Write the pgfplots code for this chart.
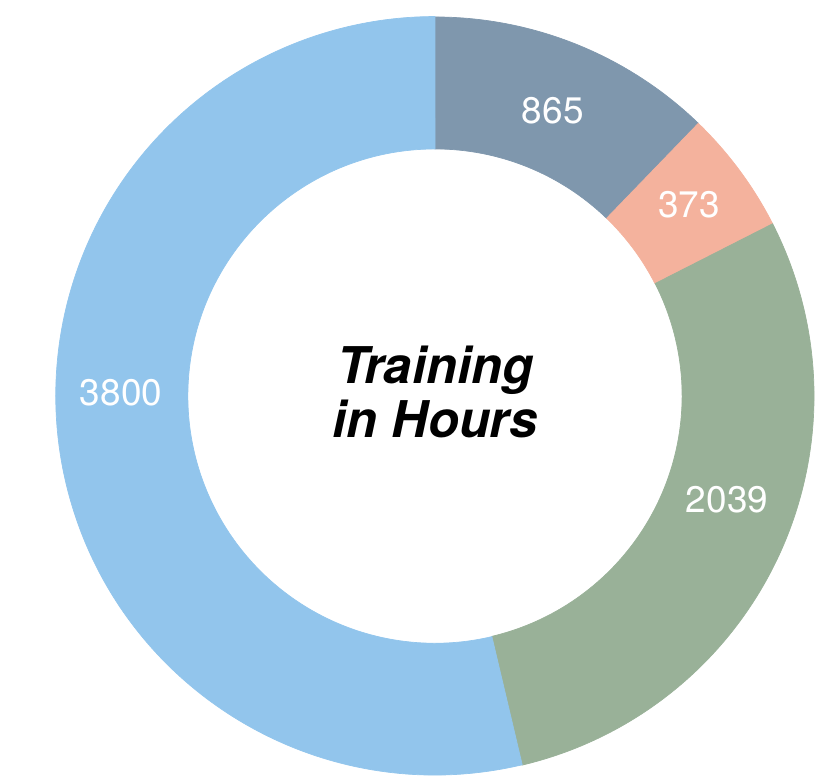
\documentclass[border=0pt]{standalone}
\usepackage{fontspec}
\setmainfont{TeX Gyre Heros}
\usepackage{pgfplots}
\usepackage{pgfplotstable}
\pgfplotsset{compat=1.18}
\definecolor{c0}{HTML}{7F97AD}
\definecolor{c1}{HTML}{F4B29D}
\definecolor{c2}{HTML}{99B198}
\definecolor{c3}{HTML}{92C5EC}
% value, label angle (deg), label radius (px units)
\pgfplotstableread{
value langle lrad
865   67.6   309
373   37.0   318
2039  -19.6  310
3800  179.4  314
}\data
\begin{document}
\begin{tikzpicture}
% precompute slice angles (clockwise from top)
\gdef\total{0}
\foreach \i in {0,...,3}{
  \pgfplotstablegetelem{\i}{value}\of\data
  \pgfmathsetmacro{\t}{\total+\pgfplotsretval}
  \global\let\total\t
}
\gdef\cum{0}
\foreach \i in {0,...,3}{
  \pgfplotstablegetelem{\i}{value}\of\data
  \pgfmathsetmacro{\s}{90-\cum/\total*360}
  \pgfmathsetmacro{\c}{\cum+\pgfplotsretval}
  \pgfmathsetmacro{\e}{90-\c/\total*360}
  \expandafter\xdef\csname sa\i\endcsname{\s}
  \expandafter\xdef\csname ea\i\endcsname{\e}
  \global\let\cum\c
  \pgfplotstablegetelem{\i}{langle}\of\data
  \expandafter\xdef\csname la\i\endcsname{\pgfplotsretval}
  \pgfplotstablegetelem{\i}{lrad}\of\data
  \expandafter\xdef\csname lr\i\endcsname{\pgfplotsretval}
  \pgfplotstablegetelem{\i}{value}\of\data
  \expandafter\xdef\csname lv\i\endcsname{\pgfplotsretval}
}
\begin{axis}[
  hide axis,
  x=0.01cm, y=0.01cm,
  xmin=-435, xmax=381,
  ymin=-381, ymax=396,
  clip=false,
]
\path (axis cs:-435,-381) rectangle (axis cs:381,396);
\pgfplotsinvokeforeach{0,1,2,3}{
  \fill[overlay, c#1, draw=c#1, line width=0.2pt]
    ({379*cos(\csname sa#1\endcsname)},{379*sin(\csname sa#1\endcsname)})
    arc[start angle=\csname sa#1\endcsname, end angle=\csname ea#1\endcsname, radius=3.79cm]
    -- ({247*cos(\csname ea#1\endcsname)},{247*sin(\csname ea#1\endcsname)})
    arc[start angle=\csname ea#1\endcsname, end angle=\csname sa#1\endcsname, radius=2.47cm]
    -- cycle;
}
\pgfplotsinvokeforeach{0,1,2,3}{
  \node[overlay, text=white, font=\fontsize{10.5}{12}\selectfont, inner sep=0pt]
    at ({\csname lr#1\endcsname*cos(\csname la#1\endcsname)},{\csname lr#1\endcsname*sin(\csname la#1\endcsname)})
    {\csname lv#1\endcsname};
}
\node[overlay, align=center, font=\fontsize{14.4}{15.6}\selectfont\bfseries\itshape, inner sep=0pt]
  at (0,4) {Training\\in Hours};
\end{axis}
\end{tikzpicture}
\end{document}
